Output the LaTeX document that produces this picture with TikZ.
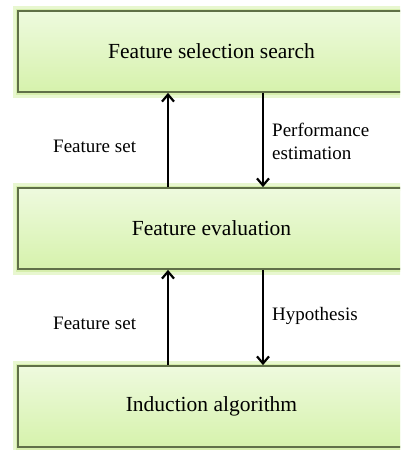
\documentclass[tikz,border=0pt]{standalone}
\usepackage{fontspec}
\setmainfont{Liberation Serif}
\usetikzlibrary{arrows.meta}
\definecolor{boxtop}{RGB}{238,250,222}
\definecolor{boxbot}{RGB}{214,242,172}
\definecolor{boxline}{RGB}{96,112,72}
\definecolor{boxglow}{RGB}{232,247,208}
\definecolor{boxglowin}{RGB}{214,238,172}
\tikzset{
  stage/.style={rectangle, draw=boxline, line width=1.8pt,
    top color=boxtop, bottom color=boxbot,
    minimum width=387pt, minimum height=81pt,
    font=\fontsize{21.5}{26}\selectfont,
    preaction={draw=boxglow, line width=11pt},
    preaction={draw=boxglowin, line width=5pt}},
  flow/.style={line width=2pt, -{Straight Barb[length=7pt,width=12pt,line width=2.2pt]}},
  note/.style={font=\fontsize{19}{23}\selectfont, align=left, inner sep=0pt}
}
\begin{document}
\begin{tikzpicture}[x=1pt,y=1pt]
  \clip (0,0) rectangle (400,-450);
  \fill[white] (0,0) rectangle (400,-450);
  \node[stage] (search) at (211.5,-51.5) {Feature selection search};
  \node[stage] (eval) at (211.5,-228.5) {Feature evaluation};
  \node[stage] (induct) at (211.5,-406.5) {Induction algorithm};
  \node[note, anchor=west] (set1) at (53,-146) {Feature set};
  \node[note, anchor=west] (perf) at (272,-141) {Performance\\estimation};
  \node[note, anchor=west] (set2) at (53,-323) {Feature set};
  \node[note, anchor=west] (hyp) at (272,-316) {Hypothesis};
  \begin{scope}[flow]
    \draw (eval.north -| 168,0) -- (search.south -| 168,0);
    \draw (search.south -| 263,0) -- (eval.north -| 263,0);
    \draw (induct.north -| 168,0) -- (eval.south -| 168,0);
    \draw (eval.south -| 263,0) -- (induct.north -| 263,0);
  \end{scope}
\end{tikzpicture}
\end{document}
